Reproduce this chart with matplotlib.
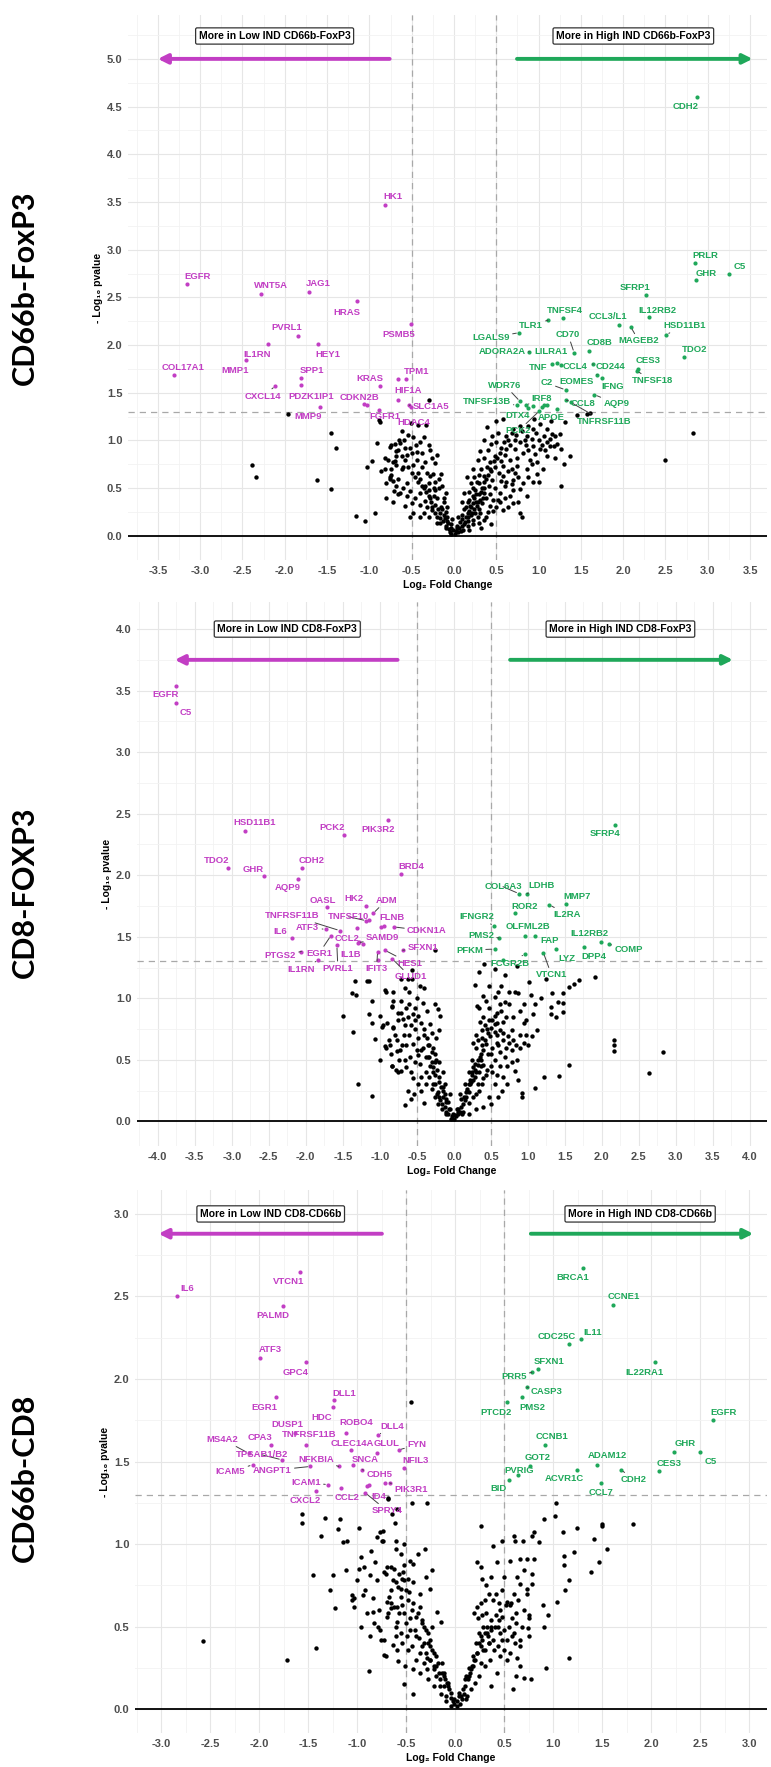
import numpy as np
import matplotlib
matplotlib.use('Agg')
import matplotlib.pyplot as plt
from matplotlib.ticker import FormatStrFormatter, MultipleLocator

plt.rcParams['font.family'] = ['Liberation Sans', 'DejaVu Sans']
plt.rcParams['axes.unicode_minus'] = False

MAGENTA = '#C23EC4'
GREEN = '#1FA85A'

# points close to the origin, shared shape of the dense V tip
tip_pts = [(0.02, 0.05), (-0.01, 0.06), (0.04, 0.10), (-0.04, 0.02), (0.06, 0.08), (-0.08, 0.16),
           (0.10, 0.18), (0.14, 0.20), (-0.12, 0.22), (0.18, 0.26), (-0.16, 0.14), (0.20, 0.30),
           (-0.20, 0.20), (0.22, 0.34), (-0.22, 0.24), (0.24, 0.40), (-0.26, 0.30), (0.16, 0.24),
           (-0.14, 0.28), (0.11, 0.06), (-0.10, 0.08), (0.28, 0.36), (-0.28, 0.40), (0.26, 0.44),
           (-0.30, 0.48), (0.34, 0.40), (-0.34, 0.52), (0.32, 0.46), (0.36, 0.50), (-0.24, 0.50)]

# ---------------- Panel 1: CD66b-FoxP3 ----------------
p1_bg = [(-1.96, 1.28), (-1.45, 1.08), (-1.40, 0.92), (-2.39, 0.74), (-2.34, 0.62), (-1.62, 0.59),
         (-1.45, 0.49), (-1.16, 0.21), (-1.05, 0.16), (-0.93, 0.24), (-0.91, 0.97), (-0.89, 1.21),
         (-0.87, 1.19), (-0.75, 0.95), (-0.69, 0.89), (-0.82, 0.82), (-0.78, 0.80), (-0.97, 0.79),
         (-1.03, 0.72), (-0.86, 0.68), (-0.75, 0.64), (-0.69, 0.74), (-0.76, 0.60), (-0.72, 0.57),
         (-0.80, 0.40), (-0.71, 0.47), (-0.66, 0.44), (-0.65, 1.00), (-0.30, 1.42), (-0.51, 1.18),
         (-0.42, 1.16), (-0.33, 1.16), (-0.59, 1.00), (-0.64, 0.97), (-0.76, 0.93), (-0.69, 0.84),
         (-0.50, 0.87), (-0.44, 0.88), (-0.38, 0.87), (-0.20, 0.85), (-0.34, 0.77), (-0.23, 0.76),
         (-0.72, 0.77), (-0.82, 0.70), (-0.60, 0.72), (-0.48, 0.74), (-0.42, 0.66), (-0.76, 0.62),
         (-0.66, 0.60), (-0.28, 0.63), (-0.23, 0.56), (-0.80, 0.55), (-0.64, 0.45), (-0.52, 0.47),
         (-0.36, 0.50), (-0.46, 0.40), (-0.34, 0.37), (-0.24, 0.42), (-0.72, 0.35), (-0.58, 0.31),
         (-0.48, 0.24), (-0.36, 0.24), (-0.26, 0.27), (-0.17, 0.24), (-0.11, 0.19), (-0.07, 0.13),
         (-0.03, 0.08), (0.01, 0.02), (-0.05, 0.04), (0.05, 0.04), (0.09, 0.10), (0.13, 0.15),
         (0.17, 0.20), (0.21, 0.24), (0.27, 0.31), (0.31, 0.38), (0.35, 0.45), (0.41, 0.52),
         (0.45, 0.59), (0.53, 0.66), (0.58, 0.73), (0.66, 0.80), (0.72, 0.91), (0.78, 0.98),
         (0.86, 1.05), (0.94, 1.12), (1.02, 1.17), (1.10, 1.12), (1.16, 1.07), (1.25, 1.07),
         (1.27, 0.91), (1.37, 0.84), (1.27, 0.52), (0.39, 1.14), (0.31, 0.89), (0.39, 0.72),
         (0.50, 0.98), (0.54, 0.87), (0.62, 1.05), (0.70, 1.12), (0.78, 1.15), (0.62, 0.91),
         (0.74, 0.82), (0.82, 0.87), (0.94, 0.94), (1.02, 0.91), (1.10, 0.98), (0.98, 0.77),
         (0.86, 0.70), (0.94, 0.56), (1.00, 0.56), (0.70, 0.59), (0.62, 0.56), (0.54, 0.45),
         (0.46, 0.38), (0.43, 0.31), (0.31, 0.24), (0.23, 0.17), (0.35, 0.17), (0.17, 0.10),
         (0.78, 0.24), (0.80, 0.20), (0.54, 0.35), (0.66, 0.42), (0.78, 0.49), (0.86, 0.42),
         (0.23, 0.42), (0.19, 0.31), (0.27, 0.56), (0.35, 0.63), (0.43, 0.77), (0.49, 0.84),
         (0.58, 0.63), (0.68, 0.70), (0.74, 0.73), (1.10, 0.84), (1.18, 0.94), (1.06, 1.05),
         (1.31, 1.19), (1.45, 1.27), (1.57, 1.28), (1.61, 1.29), (2.82, 1.08), (2.50, 0.80),
         (-0.15, 0.30), (-0.10, 0.25), (-0.12, 0.35), (-0.20, 0.40), (-0.18, 0.50), (-0.30, 0.55),
         (-0.25, 0.65), (-0.40, 0.60), (-0.55, 0.55), (-0.62, 0.70), (-0.55, 0.85), (-0.45, 0.95),
         (-0.62, 1.10), (-0.08, 0.20), (-0.04, 0.12), (0.03, 0.08), (0.07, 0.15), (0.10, 0.22),
         (0.14, 0.30), (0.18, 0.38), (0.25, 0.48), (0.30, 0.55), (0.38, 0.60), (0.44, 0.68),
         (0.48, 0.72), (0.55, 0.78), (0.60, 0.85), (0.66, 0.95), (0.72, 1.00), (0.85, 0.95),
         (0.90, 0.80), (1.05, 0.70), (0.98, 0.65), (0.70, 0.48), (0.60, 0.40), (0.50, 0.30),
         (0.40, 0.25), (0.28, 0.20), (0.88, 1.15), (0.95, 1.22), (1.15, 1.20), (1.20, 0.82),
         (1.30, 0.75), (0.45, 1.05), (0.35, 1.00), (0.28, 0.80), (0.22, 0.70), (0.50, 1.20),
         (0.58, 1.22), (0.05, 0.20), (-0.02, 0.18), (-0.32, 0.30), (-0.40, 0.45), (-0.28, 0.90),
         (-0.15, 0.65), (-0.10, 0.45), (0.12, 0.45), (0.20, 0.55), (0.15, 0.62),
         (0.08, 0.05), (0.12, 0.12), (0.16, 0.16), (0.20, 0.22), (0.24, 0.28), (0.26, 0.36),
         (0.29, 0.44), (0.33, 0.50), (0.36, 0.56), (0.40, 0.64), (0.42, 0.70), (0.47, 0.78),
         (0.51, 0.82), (0.56, 0.92), (0.59, 0.98), (0.64, 1.00), (0.68, 1.08), (0.73, 1.06),
         (0.80, 1.10), (0.84, 1.00), (0.88, 0.90), (0.92, 1.02), (0.97, 1.08), (1.00, 1.00),
         (1.04, 0.95), (1.08, 0.90), (1.13, 0.94), (1.14, 1.02), (1.20, 1.05), (1.22, 0.96),
         (0.96, 0.86), (0.92, 0.75), (0.88, 0.62), (0.82, 0.55), (0.76, 0.62), (0.72, 0.66),
         (0.64, 0.68), (0.56, 0.58), (0.48, 0.50), (0.42, 0.44), (0.38, 0.40), (0.33, 0.34),
         (0.29, 0.28), (0.25, 0.24), (0.22, 0.12), (0.30, 0.14), (0.38, 0.20), (0.46, 0.26),
         (0.52, 0.38), (0.60, 0.52), (0.68, 0.54), (0.76, 0.36), (0.70, 0.34), (0.64, 0.30),
         (0.58, 0.27), (0.44, 0.12), (0.32, 0.08), (0.18, 0.06), (0.52, 1.08), (0.44, 0.96),
         (0.40, 0.90), (0.36, 0.82), (0.32, 0.70), (0.30, 0.64), (0.24, 0.62), (0.22, 0.50),
         (0.18, 0.46), (0.16, 0.36), (0.12, 0.28), (0.10, 0.35),
         (-0.06, 0.07), (-0.09, 0.10), (-0.13, 0.16), (-0.16, 0.19), (-0.19, 0.28), (-0.22, 0.32),
         (-0.27, 0.36), (-0.30, 0.42), (-0.33, 0.46), (-0.38, 0.52), (-0.42, 0.56), (-0.46, 0.62),
         (-0.50, 0.66), (-0.54, 0.72), (-0.58, 0.80), (-0.62, 0.84), (-0.66, 0.90), (-0.70, 0.96),
         (-0.52, 0.92), (-0.48, 1.04), (-0.40, 0.98), (-0.36, 1.04), (-0.30, 0.95), (-0.26, 0.82),
         (-0.32, 0.66), (-0.18, 0.60), (-0.14, 0.52), (-0.22, 0.48), (-0.50, 0.34), (-0.40, 0.32),
         (-0.30, 0.20), (-0.20, 0.14), (-0.56, 0.42), (-0.60, 0.50), (-0.68, 0.52), (-0.74, 0.70),
         (-0.70, 0.78), (-0.58, 0.92), (-0.54, 1.06), (-0.44, 0.80), (-0.38, 0.72), (-0.12, 0.40),
         (-0.08, 0.30), (-0.40, 0.20), (-0.52, 0.20)] + tip_pts

p1_down_genes = ['HK1', 'EGFR', 'WNT5A', 'JAG1', 'HRAS', 'PSMB5', 'PVRL1', 'IL1RN', 'HEY1', 'MMP1',
                 'COL17A1', 'SPP1', 'PDZK1IP1', 'CXCL14', 'KRAS', 'MMP9', 'CDKN2B', 'FGFR1', 'TPM1',
                 'HIF1A', 'SLC1A5', 'HDAC4']
p1_down_fc = [-0.82, -3.15, -2.28, -1.71, -1.15, -0.51, -1.84, -2.20, -1.61, -2.46, -3.31, -1.81, -1.81,
              -2.11, -0.87, -1.58, -1.03, -0.89, -0.57, -0.66, -0.53, -0.51]
p1_down_y = [3.47, 2.64, 2.54, 2.56, 2.46, 2.22, 2.10, 2.01, 2.01, 1.84, 1.69, 1.66, 1.58, 1.57, 1.57,
             1.35, 1.37, 1.32, 1.64, 1.42, 1.37, 1.35]
p1_down_extra = [(-0.66, 1.64), (-1.06, 1.38)]

p1_up_genes = ['CDH2', 'PRLR', 'GHR', 'C5', 'SFRP1', 'TNFSF4', 'TLR1', 'CCL3/L1', 'IL12RB2', 'MAGEB2',
               'HSD11B1', 'LGALS9', 'CD70', 'CD8B', 'ADORA2A', 'LILRA1', 'TDO2', 'TNF', 'CCL4', 'CD244',
               'CES3', 'TNFSF18', 'EOMES', 'C2', 'IFNG', 'AQP9', 'WDR76', 'TNFSF13B', 'IRF8', 'CCL8',
               'TNFRSF11B', 'DTX4', 'APOE', 'PCK2']
p1_up_fc = [2.87, 2.85, 2.86, 3.25, 2.27, 1.29, 1.11, 1.95, 2.31, 2.09, 2.51, 0.77, 1.42, 1.60, 0.89,
            1.22, 2.72, 1.16, 1.26, 1.64, 2.18, 2.16, 1.69, 1.32, 1.75, 1.66, 0.78, 0.74, 0.85, 1.33,
            1.38, 0.88, 1.04, 1.01]
p1_up_y = [4.60, 2.86, 2.68, 2.75, 2.53, 2.28, 2.26, 2.21, 2.29, 2.19, 2.11, 2.13, 1.92, 1.94, 1.93,
           1.81, 1.87, 1.80, 1.79, 1.80, 1.75, 1.73, 1.69, 1.53, 1.66, 1.48, 1.41, 1.37, 1.37, 1.42,
           1.40, 1.34, 1.35, 1.31]
p1_up_extra = [(1.06, 1.37), (1.10, 1.37), (0.93, 1.36), (1.22, 1.33)]

# ---------------- Panel 2: CD8-FOXP3 ----------------
p2_bg = [(-1.50, 0.86), (-1.36, 0.73), (-1.37, 1.04), (-1.32, 1.03), (-1.34, 1.14), (-1.17, 1.14),
         (-1.15, 1.14), (-1.10, 0.98), (-1.14, 0.87), (-1.00, 0.86), (-1.10, 0.80), (-0.97, 0.77),
         (-1.07, 0.67), (-1.00, 0.50), (-1.29, 0.30), (-1.11, 0.21), (-0.92, 1.05), (-0.83, 0.94),
         (-0.82, 1.05), (-0.88, 0.66), (-0.93, 0.61), (-0.86, 0.62), (-0.77, 0.57), (-0.84, 0.45),
         (-0.75, 0.40), (-0.82, 0.77), (-0.75, 0.88), (-0.57, 1.23), (-0.56, 1.16), (-0.62, 1.16),
         (-0.71, 1.16), (-0.93, 1.07), (-0.82, 0.98), (-0.83, 0.93), (-0.71, 0.98), (-0.71, 0.88),
         (-0.69, 0.83), (-0.53, 0.92), (-0.55, 0.87), (-0.82, 0.76), (-0.96, 0.78), (-0.91, 0.60),
         (-0.77, 0.66), (-0.73, 0.58), (-0.55, 0.63), (-0.50, 0.58), (-0.66, 0.50), (-0.83, 0.45),
         (-0.72, 0.41), (-0.59, 0.52), (-0.46, 0.47), (-0.32, 0.79), (-0.21, 0.91), (-0.19, 0.86),
         (-0.30, 0.72), (-0.44, 0.36), (-0.37, 0.30), (-0.28, 0.44), (-0.28, 0.30), (-0.66, 0.13),
         (-0.23, 0.22), (-0.19, 0.17), (-0.12, 0.12), (-0.08, 0.06), (0.00, 0.02), (0.06, 0.06),
         (0.10, 0.12), (0.15, 0.17), (0.18, 0.25), (0.22, 0.30), (0.24, 0.38), (0.28, 0.47),
         (0.35, 0.52), (0.40, 0.58), (0.44, 0.63), (0.49, 0.69), (0.55, 0.73), (0.55, 0.86),
         (0.55, 0.79), (0.35, 0.81), (0.31, 0.94), (0.28, 1.11), (0.34, 1.21), (0.41, 1.28),
         (0.55, 1.24), (0.69, 1.19), (0.85, 1.26), (0.82, 1.05), (0.87, 1.04), (0.69, 0.97),
         (0.55, 1.01), (0.44, 0.98), (0.67, 0.81), (0.78, 0.74), (0.73, 0.69), (0.89, 0.70),
         (0.98, 0.70), (1.05, 0.69), (1.12, 0.74), (1.07, 0.87), (1.02, 1.13), (1.04, 1.03),
         (1.25, 1.16), (1.32, 1.04), (1.31, 0.93), (1.31, 0.87), (1.38, 0.85), (1.41, 0.97),
         (1.48, 0.96), (1.48, 0.89), (1.48, 1.04), (1.55, 1.09), (1.62, 1.12), (1.69, 1.15),
         (1.90, 1.17), (0.69, 0.52), (0.78, 0.58), (0.85, 0.50), (0.82, 0.41), (0.86, 0.34),
         (0.92, 0.23), (0.92, 0.20), (1.09, 0.27), (1.22, 0.36), (1.42, 0.37), (1.55, 0.46),
         (2.16, 0.66), (2.16, 0.62), (2.17, 0.57), (2.64, 0.39), (2.83, 0.56), (-0.26, 1.39),
         (0.30, 0.60), (0.38, 0.68), (0.45, 0.75), (0.50, 0.55), (0.60, 0.62), (0.62, 0.45),
         (0.52, 0.40), (0.45, 0.42), (0.40, 0.35), (0.32, 0.30), (0.30, 0.40), (0.26, 0.20),
         (0.20, 0.15), (0.12, 0.08), (0.05, 0.10), (0.36, 0.45), (0.58, 0.70), (0.64, 0.90),
         (0.48, 0.92), (0.40, 0.85), (0.60, 1.05), (0.75, 0.95), (0.95, 0.95), (0.98, 0.82),
         (0.72, 0.30), (0.65, 0.25), (0.55, 0.30), (0.48, 0.20), (-0.05, 0.10), (-0.10, 0.18),
         (-0.15, 0.25), (-0.20, 0.32), (-0.25, 0.38), (-0.32, 0.45), (-0.38, 0.52), (-0.42, 0.60),
         (-0.48, 0.68), (-0.52, 0.75), (-0.60, 0.70), (-0.65, 0.62), (-0.40, 0.70), (-0.35, 0.62),
         (-0.25, 0.55), (-0.20, 0.48), (-0.15, 0.40), (-0.45, 0.25), (-0.55, 0.35), (-0.62, 0.25),
         (-0.50, 1.00), (-0.60, 1.05), (-0.40, 1.08), (-0.65, 0.92), (-0.12, 0.30), (-0.05, 0.22),
         (0.08, 0.22), (0.15, 0.30), (0.20, 0.40), (0.25, 0.50),
         (0.03, 0.04), (0.08, 0.08), (0.12, 0.14), (0.16, 0.20), (0.20, 0.24), (0.23, 0.32),
         (0.26, 0.34), (0.29, 0.42), (0.32, 0.50), (0.36, 0.55), (0.38, 0.62), (0.42, 0.66),
         (0.46, 0.72), (0.50, 0.76), (0.52, 0.82), (0.58, 0.80), (0.62, 0.74), (0.66, 0.66),
         (0.70, 0.60), (0.74, 0.64), (0.80, 0.66), (0.84, 0.62), (0.90, 0.60), (0.95, 0.64),
         (1.00, 0.62), (0.62, 0.56), (0.56, 0.50), (0.50, 0.45), (0.44, 0.38), (0.38, 0.30),
         (0.34, 0.25), (0.30, 0.22), (0.40, 0.46), (0.46, 0.55), (0.52, 0.60), (0.58, 0.64),
         (0.66, 0.72), (0.70, 0.85), (0.62, 0.95), (0.58, 0.88), (0.48, 0.82), (0.42, 0.78),
         (0.38, 0.74), (0.33, 0.66), (0.30, 0.70), (0.26, 0.64), (0.34, 0.92), (0.40, 1.02),
         (0.47, 1.10), (0.64, 1.10), (0.75, 1.05), (0.80, 0.85), (0.90, 0.90), (0.95, 0.80),
         (1.10, 0.95), (1.18, 1.00), (0.72, 0.45), (0.78, 0.48), (0.66, 0.36), (0.58, 0.38),
         (0.60, 0.20), (0.50, 0.14), (0.40, 0.12), (0.30, 0.10), (0.20, 0.06),
         (-0.03, 0.04), (-0.07, 0.10), (-0.11, 0.16), (-0.14, 0.20), (-0.17, 0.28), (-0.20, 0.36),
         (-0.23, 0.42), (-0.26, 0.48), (-0.30, 0.56), (-0.33, 0.62), (-0.36, 0.68), (-0.40, 0.75),
         (-0.44, 0.80), (-0.48, 0.86), (-0.52, 0.82), (-0.58, 0.78), (-0.62, 0.85), (-0.66, 0.78),
         (-0.68, 0.70), (-0.70, 0.62), (-0.74, 0.50), (-0.78, 0.42), (-0.64, 0.44), (-0.58, 0.40),
         (-0.52, 0.48), (-0.48, 0.54), (-0.44, 0.58), (-0.38, 0.40), (-0.34, 0.36), (-0.30, 0.26),
         (-0.26, 0.20), (-0.22, 0.14), (-0.16, 0.10), (-0.10, 0.06), (-0.48, 0.30), (-0.54, 0.22),
         (-0.58, 0.18), (-0.40, 0.15), (-0.35, 0.52), (-0.28, 0.60), (-0.24, 0.68), (-0.20, 0.74),
         (-0.26, 0.95), (-0.36, 0.90), (-0.42, 0.96), (-0.60, 0.95), (-0.66, 1.08), (-0.46, 1.10),
         (-0.85, 0.55), (-0.80, 0.70), (-0.90, 0.80), (-0.76, 0.82)] + tip_pts

p2_down_genes = ['EGFR', 'C5', 'HSD11B1', 'PCK2', 'PIK3R2', 'TDO2', 'GHR', 'CDH2', 'AQP9', 'BRD4', 'OASL',
                 'HK2', 'ADM', 'TNFRSF11B', 'TNFSF10', 'FLNB', 'CDKN1A', 'IL6', 'ATF3', 'CCL2', 'SAMD9',
                 'IL1B', 'PTGS2', 'EGR1', 'PVRL1', 'IL1RN', 'IFIT3', 'HES1', 'GLUD1', 'SFXN1']
p2_down_fc = [-3.75, -3.75, -2.82, -1.49, -0.89, -3.05, -2.56, -2.05, -2.10, -0.72, -1.72, -1.19, -1.09,
              -1.54, -1.18, -0.95, -0.81, -2.18, -1.73, -1.31, -1.30, -1.23, -2.06, -1.66, -1.58, -1.83,
              -1.03, -0.93, -0.83, -0.69]
p2_down_y = [3.54, 3.40, 2.36, 2.33, 2.45, 2.06, 1.99, 2.06, 1.97, 2.01, 1.74, 1.75, 1.69, 1.55, 1.63,
             1.59, 1.58, 1.49, 1.56, 1.57, 1.45, 1.44, 1.38, 1.51, 1.43, 1.31, 1.38, 1.39, 1.32, 1.39]
p2_down_extra = [(-1.03, 1.31), (-1.15, 1.64), (-0.99, 1.58), (-1.28, 1.46)]

p2_up_genes = ['SFRP4', 'COL6A3', 'LDHB', 'MMP7', 'ROR2', 'IL2RA', 'IFNGR2', 'OLFML2B', 'FAP', 'PMS2',
               'IL12RB2', 'DPP4', 'COMP', 'PFKM', 'FCGR2B', 'VTCN1', 'LYZ']
p2_up_fc = [2.18, 0.88, 0.99, 1.51, 0.82, 1.29, 0.54, 0.96, 1.09, 0.61, 1.99, 1.76, 2.09, 0.55, 0.96,
            1.21, 1.38]
p2_up_y = [2.41, 1.85, 1.85, 1.77, 1.69, 1.76, 1.59, 1.51, 1.51, 1.49, 1.46, 1.42, 1.44, 1.40, 1.36,
           1.37, 1.40]
p2_up_extra = [(0.66, 1.31)]

# ---------------- Panel 3: CD66b-CD8 ----------------
p3_bg = [(-2.58, 0.41), (-1.42, 0.37), (-1.72, 0.30), (-1.57, 1.18), (-1.57, 1.13), (-1.33, 1.16),
         (-1.18, 1.15), (-1.37, 1.05), (-1.20, 1.09), (-1.11, 1.02), (-1.15, 1.01), (-0.98, 1.10),
         (-1.45, 0.81), (-1.25, 0.81), (-1.12, 0.84), (-1.28, 0.72), (-1.23, 0.61), (-1.06, 0.69),
         (-1.04, 0.67), (-1.06, 0.66), (-1.04, 0.62), (-0.96, 0.92), (-0.98, 0.85), (-0.93, 0.86),
         (-0.87, 0.81), (-0.82, 0.89), (-0.92, 0.72), (-0.94, 0.69), (-0.84, 0.67), (-0.84, 0.59),
         (-0.83, 0.52), (-0.79, 0.50), (-0.77, 0.48), (-0.87, 0.44), (-0.76, 0.42), (-0.88, 0.23),
         (-0.73, 0.33), (-0.74, 1.08), (-0.74, 1.02), (-0.80, 1.04), (-0.71, 0.82), (-0.70, 0.86),
         (-0.66, 0.86), (-0.63, 0.85), (-0.70, 0.65), (-0.66, 0.61), (-0.69, 0.58), (-0.63, 0.62),
         (-0.59, 0.74), (-0.61, 0.44), (-0.64, 0.39), (-0.59, 0.29), (-0.69, 1.28), (-0.65, 1.18),
         (-0.62, 1.13), (-0.61, 0.97), (-0.45, 1.86),
         (-0.69, 1.27), (-0.44, 1.25), (-0.29, 1.25), (-0.60, 1.21), (-0.77, 1.07), (-0.75, 1.02),
         (-0.61, 1.02), (-0.31, 0.97), (-0.56, 0.94), (-0.52, 0.87), (-0.43, 0.88), (-0.73, 0.83),
         (-0.53, 0.83), (-0.54, 0.79), (-0.48, 0.79), (-0.43, 0.77), (-0.61, 0.77), (-0.56, 0.73),
         (-0.47, 0.71), (-0.26, 0.73), (-0.56, 0.68), (-0.66, 0.64), (-0.54, 0.63), (-0.43, 0.64),
         (-0.36, 0.62), (-0.19, 0.59), (-0.15, 0.53), (-0.70, 0.56), (-0.60, 0.53), (-0.46, 0.55),
         (-0.73, 0.42), (-0.61, 0.50), (-0.56, 0.46), (-0.49, 0.44), (-0.41, 0.48), (-0.37, 0.43),
         (-0.32, 0.40), (-0.26, 0.38), (-0.22, 0.34), (-0.44, 0.38), (-0.36, 0.34), (-0.29, 0.31),
         (-0.71, 0.32), (-0.51, 0.26), (-0.43, 0.24), (-0.36, 0.22), (-0.29, 0.24), (-0.22, 0.26),
         (-0.17, 0.22), (-0.12, 0.20), (-0.09, 0.16), (-0.07, 0.12), (-0.04, 0.07), (-0.01, 0.03),
         (-0.52, 0.15), (-0.43, 0.09), (-0.15, 0.09), (-0.10, 0.05),
         (0.05, 0.03), (0.07, 0.06), (0.09, 0.09), (0.10, 0.14), (0.13, 0.18), (0.15, 0.22),
         (0.17, 0.26), (0.19, 0.30), (0.22, 0.34), (0.26, 0.38), (0.27, 0.42), (0.30, 0.46),
         (0.32, 0.50), (0.36, 0.54), (0.41, 0.57), (0.46, 0.60), (0.52, 0.63), (0.56, 0.63),
         (0.19, 0.58), (0.23, 0.55), (0.27, 0.57), (0.31, 0.58), (0.22, 0.89), (0.26, 0.86),
         (0.27, 0.79), (0.31, 0.75), (0.43, 0.50), (0.48, 0.42), (0.53, 0.42), (0.61, 0.40),
         (0.66, 0.42), (0.56, 0.34), (0.63, 0.31), (0.66, 0.26), (0.53, 0.30), (0.43, 0.38),
         (0.39, 0.36), (0.41, 0.70), (0.53, 0.65), (0.57, 0.64), (0.63, 0.80), (0.66, 0.76),
         (0.73, 0.73), (0.73, 0.70), (0.78, 0.76), (0.78, 0.82), (0.66, 0.91), (0.73, 0.91),
         (0.80, 0.91), (0.61, 1.02), (0.60, 1.05), (0.69, 1.02), (0.78, 1.05), (0.80, 1.07),
         (0.85, 1.01), (0.48, 1.02), (0.38, 0.99), (0.42, 0.89), (0.26, 1.11), (0.90, 1.15),
         (1.02, 1.17), (1.03, 1.25), (1.10, 1.07), (1.24, 1.10), (1.41, 1.03), (1.50, 1.12),
         (1.50, 1.11), (1.81, 1.12), (1.55, 0.97), (1.21, 0.95), (1.11, 0.93), (1.11, 0.87),
         (1.16, 0.78), (1.12, 0.72), (1.04, 0.65), (0.89, 0.63), (0.94, 0.57), (0.90, 0.50),
         (0.92, 0.25), (0.70, 0.19), (0.77, 0.18), (1.16, 0.31), (0.59, 0.12), (1.38, 0.83),
         (1.47, 0.89), (0.75, 0.57), (0.74, 0.49), (0.75, 0.44), (0.66, 0.38), (0.75, 0.55),
         (0.02, 0.02), (0.04, 0.08), (0.08, 0.12), (0.11, 0.20), (0.14, 0.25), (0.18, 0.32),
         (0.21, 0.40), (0.24, 0.46), (0.28, 0.50), (0.33, 0.44), (0.36, 0.48), (0.38, 0.42),
         (0.40, 0.50), (0.44, 0.54), (0.48, 0.56), (0.50, 0.48), (0.55, 0.50), (0.58, 0.55),
         (0.60, 0.46), (0.62, 0.52), (0.45, 0.46), (0.35, 0.30), (0.30, 0.26), (0.26, 0.28),
         (0.24, 0.20), (0.20, 0.16), (0.16, 0.12), (0.12, 0.08), (0.30, 0.36), (0.34, 0.40),
         (0.46, 0.32), (0.50, 0.36), (0.58, 0.44), (0.62, 0.58), (0.68, 0.50), (0.70, 0.60),
         (0.64, 0.66), (0.60, 0.70), (0.48, 0.72), (0.44, 0.64), (0.38, 0.66), (0.34, 0.70),
         (0.30, 0.66), (0.26, 0.64), (0.22, 0.62), (0.36, 0.80), (0.50, 0.80), (0.56, 0.90),
         (0.70, 0.84), (0.62, 0.20), (0.42, 0.22), (0.36, 0.14),
         (-0.02, 0.05), (-0.05, 0.10), (-0.08, 0.14), (-0.11, 0.18), (-0.14, 0.22), (-0.18, 0.28),
         (-0.20, 0.32), (-0.24, 0.36), (-0.26, 0.42), (-0.28, 0.46), (-0.32, 0.50), (-0.34, 0.54),
         (-0.38, 0.58), (-0.40, 0.56), (-0.44, 0.60), (-0.48, 0.66), (-0.50, 0.72), (-0.52, 0.78),
         (-0.58, 0.82), (-0.64, 0.78), (-0.66, 0.72), (-0.68, 0.68), (-0.60, 0.62), (-0.58, 0.58),
         (-0.52, 0.58), (-0.50, 0.52), (-0.46, 0.48), (-0.40, 0.44), (-0.34, 0.38), (-0.30, 0.34),
         (-0.26, 0.30), (-0.20, 0.26), (-0.16, 0.18), (-0.12, 0.14), (-0.48, 0.36), (-0.54, 0.40),
         (-0.40, 0.30), (-0.32, 0.28), (-0.28, 0.18), (-0.22, 0.14), (-0.60, 0.36), (-0.46, 0.90),
         (-0.38, 0.94), (-0.52, 1.00), (-0.36, 0.70), (-0.30, 0.80), (-0.24, 0.84), (-0.80, 0.78),
         (-0.78, 0.60), (-0.90, 0.58), (-0.96, 0.50), (-1.00, 0.78), (-0.86, 0.96)] + tip_pts

p3_down_genes = ['VTCN1', 'IL6', 'PALMD', 'ATF3', 'GPC4', 'EGR1', 'DLL1', 'HDC', 'DUSP1', 'ROBO4', 'DLL4',
                 'MS4A2', 'CPA3', 'TNFRSF11B', 'CLEC14A', 'GLUL', 'TPSAB1/B2', 'ICAM5', 'ANGPT1',
                 'NFKBIA', 'SNCA', 'CDH5', 'ICAM1', 'CXCL2', 'CCL2', 'ID4', 'SPRY4', 'PIK3R1', 'NFIL3',
                 'FYN']
p3_down_fc = [-1.59, -2.84, -1.76, -1.99, -1.52, -1.83, -1.24, -1.25, -1.64, -1.12, -0.79, -2.11, -1.88,
              -1.52, -1.07, -0.80, -1.77, -2.07, -1.48, -1.19, -1.05, -0.95, -1.30, -1.42, -1.17, -0.88,
              -0.92, -0.67, -0.52, -0.58]
p3_down_y = [2.65, 2.50, 2.44, 2.13, 2.10, 1.89, 1.87, 1.83, 1.67, 1.67, 1.66, 1.55, 1.60, 1.60, 1.57,
             1.55, 1.51, 1.48, 1.47, 1.47, 1.48, 1.45, 1.36, 1.32, 1.34, 1.36, 1.31, 1.37, 1.46, 1.57]
p3_down_extra = [(-0.72, 1.37), (-0.90, 1.35)]

p3_up_genes = ['BRCA1', 'CCNE1', 'CDC25C', 'IL11', 'SFXN1', 'PRR5', 'IL22RA1', 'CASP3', 'PMS2', 'PTCD2',
               'EGFR', 'CCNB1', 'GHR', 'C5', 'GOT2', 'ADAM12', 'ACVR1C', 'CES3', 'CDH2', 'PVRIG', 'BID',
               'CCL7']
p3_up_fc = [1.30, 1.61, 1.16, 1.28, 0.84, 0.78, 2.04, 0.73, 0.68, 0.53, 2.63, 0.91, 2.23, 2.50, 0.76,
            1.44, 1.24, 2.08, 1.69, 0.64, 0.55, 1.49]
p3_up_y = [2.67, 2.45, 2.21, 2.24, 2.06, 2.04, 2.10, 1.95, 1.89, 1.86, 1.75, 1.60, 1.56, 1.56, 1.47,
           1.48, 1.45, 1.44, 1.45, 1.42, 1.39, 1.37]
p3_up_extra = []

# label offsets (pixels, right / up) as placed by the repel step
p1_offsets = {'HK1': (8, 8), 'EGFR': (10, 8), 'WNT5A': (10, 8), 'JAG1': (9, 8), 'HRAS': (-10, -11),
              'PSMB5': (-12, -10), 'PVRL1': (-12, 8), 'IL1RN': (-11, -10), 'HEY1': (10, -10),
              'MMP1': (-11, -10), 'COL17A1': (9, 7), 'SPP1': (11, 7), 'PDZK1IP1': (10, -11),
              'CXCL14': (-13, -10), 'KRAS': (-10, 8), 'MMP9': (-12, -9), 'CDKN2B': (-7, 8),
              'FGFR1': (6, -7), 'TPM1': (11, 8), 'HIF1A': (10, 10), 'SLC1A5': (22, -1), 'HDAC4': (3, -15),
              'CDH2': (-11, -9), 'PRLR': (10, 8), 'GHR': (10, 7), 'C5': (11, 7), 'SFRP1': (-11, 7),
              'TNFSF4': (2, 8), 'TLR1': (-17, -5), 'CCL3/L1': (-11, 9), 'IL12RB2': (8, 7),
              'MAGEB2': (8, -14), 'HSD11B1': (18, 9), 'LGALS9': (-28, -5), 'CD70': (-6, 18),
              'CD8B': (10, 8), 'ADORA2A': (-27, 0), 'LILRA1': (-6, 12), 'TDO2': (11, 8), 'TNF': (-14, -3),
              'CCL4': (14, -1), 'CD244': (18, -2), 'CES3': (10, 8), 'TNFSF18': (16, -10),
              'EOMES': (-20, -7), 'C2': (-19, 7), 'IFNG': (11, -9), 'AQP9': (22, -9), 'WDR76': (-15, 16),
              'TNFSF13B': (-30, 4), 'IRF8': (16, 7), 'CCL8': (17, -3), 'TNFRSF11B': (33, -19),
              'DTX4': (-11, -7), 'APOE': (9, -10), 'PCK2': (-21, -20)}
p2_offsets = {'EGFR': (-11, -9), 'C5': (10, -10), 'HSD11B1': (10, 8), 'PCK2': (-11, 7), 'PIK3R2': (-10, -10),
              'TDO2': (-11, 7), 'GHR': (-11, 7), 'CDH2': (10, 7), 'AQP9': (-11, -9), 'BRD4': (11, 8),
              'OASL': (-4, 7), 'HK2': (-12, 8), 'ADM': (13, 13), 'TNFRSF11B': (-48, 15),
              'TNFSF10': (-18, 4), 'FLNB': (8, 8), 'CDKN1A': (33, -4), 'IL6': (-12, 7), 'ATF3': (-18, 2),
              'CCL2': (-10, -10), 'SAMD9': (25, 5), 'IL1B': (-12, -10), 'PTGS2': (-21, -4),
              'EGR1': (-12, -18), 'PVRL1': (1, -23), 'IL1RN': (-17, -9), 'IFIT3': (-1, -17),
              'HES1': (25, -13), 'GLUD1': (18, -18), 'SFXN1': (20, 3),
              'SFRP4': (-10, -9), 'COL6A3': (-16, 7), 'LDHB': (14, 8), 'MMP7': (11, 7), 'ROR2': (10, 7),
              'IL2RA': (18, -10), 'IFNGR2': (-17, 9), 'OLFML2B': (3, 9), 'FAP': (15, -5),
              'PMS2': (-18, 3), 'IL12RB2': (-12, 8), 'DPP4': (10, -10), 'COMP': (20, -5),
              'PFKM': (-25, -1), 'FCGR2B': (-15, -9), 'VTCN1': (8, -22), 'LYZ': (11, -9)}
p3_offsets = {'VTCN1': (-11, -10), 'IL6': (10, 8), 'PALMD': (-10, -9), 'ATF3': (10, 8), 'GPC4': (-11, -10),
              'EGR1': (-12, -10), 'DLL1': (10, 7), 'HDC': (-11, -10), 'DUSP1': (-7, 9), 'ROBO4': (11, 11),
              'DLL4': (14, 9), 'MS4A2': (-26, 14), 'CPA3': (-11, 7), 'TNFRSF11B': (3, 10),
              'CLEC14A': (2, 6), 'GLUL': (10, 10), 'TPSAB1/B2': (-20, 5), 'ICAM5': (-22, -7),
              'ANGPT1': (-38, -4), 'NFKBIA': (-23, 7), 'SNCA': (13, 5), 'CDH5': (17, -5),
              'ICAM1': (-22, 2), 'CXCL2': (-11, -9), 'CCL2': (6, -10), 'ID4': (10, -12),
              'SPRY4': (22, -18), 'PIK3R1': (21, -7), 'NFIL3': (11, 8), 'FYN': (18, 5),
              'BRCA1': (-10, -9), 'CCNE1': (11, 8), 'CDC25C': (-12, 8), 'IL11': (12, 7), 'SFXN1': (11, 8),
              'PRR5': (-18, -4), 'IL22RA1': (-11, -10), 'CASP3': (20, -4), 'PMS2': (10, -10),
              'PTCD2': (-11, -10), 'EGFR': (10, 8), 'CCNB1': (7, 8), 'GHR': (11, 8), 'C5': (10, -10),
              'GOT2': (8, 9), 'ADAM12': (11, 9), 'ACVR1C': (-13, -9), 'CES3': (10, 8), 'CDH2': (13, -10),
              'PVRIG': (1, 4), 'BID': (-11, -9), 'CCL7': (0, -10)}

FIG_W, FIG_H = 771, 1767


def ax_rect(left, right, top, bottom):
    return [left / FIG_W, 1 - bottom / FIG_H, (right - left) / FIG_W, (bottom - top) / FIG_H]


def draw_panel(ax, bg, down, up, offsets, xlim, ylim, name,
               arrow_y, low_tail, low_head, high_tail, high_head, box_y, box_x):
    ax.set_xlim(*xlim)
    ax.set_ylim(*ylim)
    ax.xaxis.set_major_locator(MultipleLocator(0.5))
    ax.xaxis.set_minor_locator(MultipleLocator(0.25))
    ax.yaxis.set_major_locator(MultipleLocator(0.5))
    ax.yaxis.set_minor_locator(MultipleLocator(0.25))
    ax.xaxis.set_major_formatter(FormatStrFormatter('%.1f'))
    ax.yaxis.set_major_formatter(FormatStrFormatter('%.1f'))
    ax.set_axisbelow(True)
    ax.grid(which='major', color='#E6E6E6', lw=0.8)
    ax.grid(which='minor', color='#F2F2F2', lw=0.6)
    ax.tick_params(which='both', length=0, labelsize=8, labelcolor='#4D4D4D', pad=4)
    for lab in ax.get_xticklabels() + ax.get_yticklabels():
        lab.set_fontweight('bold')
    for s in ax.spines.values():
        s.set_visible(False)

    ax.axhline(0, color='black', lw=1.3, zorder=2)
    for xv in (-0.5, 0.5):
        ax.axvline(xv, color='#A8A8A8', lw=0.9, ls=(0, (5, 4)), zorder=1)
    ax.axhline(1.3, color='#A8A8A8', lw=0.9, ls=(0, (5, 4)), zorder=1)

    bg = np.array(bg)
    ax.scatter(bg[:, 0], bg[:, 1], s=10, color='black', lw=0, zorder=3)

    for (genes, fcs, ys, extra), col in ((down, MAGENTA), (up, GREEN)):
        pts_x = list(fcs) + [p[0] for p in extra]
        pts_y = list(ys) + [p[1] for p in extra]
        ax.scatter(pts_x, pts_y, s=9, color=col, lw=0, zorder=4)
        for g, x, y in zip(genes, fcs, ys):
            dx, dy = offsets[g]
            line = None
            if np.hypot(dx, dy) > 16:
                line = dict(arrowstyle='-', color='#404040', lw=0.7, shrinkA=0, shrinkB=2)
            ax.annotate(g, xy=(x, y), xytext=(dx, dy), textcoords='offset pixels',
                        ha='center', va='center', fontsize=6.8, fontweight='bold', color=col,
                        arrowprops=line, zorder=5)

    arrow_kw = dict(arrowstyle='-|>', lw=2.8, shrinkA=0, shrinkB=0, mutation_scale=14)
    ax.annotate('', xy=(low_head, arrow_y), xytext=(low_tail, arrow_y),
                arrowprops=dict(color=MAGENTA, **arrow_kw))
    ax.annotate('', xy=(high_head, arrow_y), xytext=(high_tail, arrow_y),
                arrowprops=dict(color=GREEN, **arrow_kw))
    box = dict(boxstyle='round,pad=0.3,rounding_size=0.15', fc='white', ec='#333333', lw=0.9)
    ax.text(-box_x, box_y, f'More in Low IND {name}', ha='center', va='center', fontsize=7.5,
            fontweight='bold', bbox=box, zorder=6)
    ax.text(box_x, box_y, f'More in High IND {name}', ha='center', va='center', fontsize=7.5,
            fontweight='bold', bbox=box, zorder=6)

    ax.set_xlabel('Log\u2082 Fold Change', fontsize=7.5, fontweight='bold', labelpad=3)
    ax.set_ylabel('- Log\u2081\u2080 pvalue', fontsize=7.5, fontweight='bold', labelpad=3)


fig = plt.figure(figsize=(FIG_W / 100, FIG_H / 100), dpi=100)

ax1 = fig.add_axes(ax_rect(128, 767, 15, 560))
draw_panel(ax1, p1_bg, (p1_down_genes, p1_down_fc, p1_down_y, p1_down_extra),
           (p1_up_genes, p1_up_fc, p1_up_y, p1_up_extra), p1_offsets,
           (-3.853, 3.70), (-0.253, 5.46), 'CD66b-FoxP3',
           5.0, -0.76, -3.5, 0.745, 3.53, 5.24, 2.12)

ax2 = fig.add_axes(ax_rect(137, 767, 602, 1146))
draw_panel(ax2, p2_bg, (p2_down_genes, p2_down_fc, p2_down_y, p2_down_extra),
           (p2_up_genes, p2_up_fc, p2_up_y, p2_up_extra), p2_offsets,
           (-4.28, 4.23), (-0.20, 4.22), 'CD8-FoxP3',
           3.75, -0.76, -3.77, 0.76, 3.77, 4.0, 2.25)

ax3 = fig.add_axes(ax_rect(135, 767, 1190, 1733))
draw_panel(ax3, p3_bg, (p3_down_genes, p3_down_fc, p3_down_y, p3_down_extra),
           (p3_up_genes, p3_up_fc, p3_up_y, p3_up_extra), p3_offsets,
           (-3.27, 3.18), (-0.145, 3.145), 'CD8-CD66b',
           2.88, -0.75, -3.03, 0.77, 3.04, 3.0, 1.885)

for label, yc in (('CD66b-FoxP3', 288), ('CD8-FOXP3', 892), ('CD66b-CD8', 1478)):
    fig.text(25 / FIG_W, 1 - yc / FIG_H, label, rotation=90, ha='center', va='center',
             fontsize=22, fontweight='bold', family=['Lato', 'DejaVu Sans'])

fig.savefig('out.png', dpi=100)
plt.close(fig)
